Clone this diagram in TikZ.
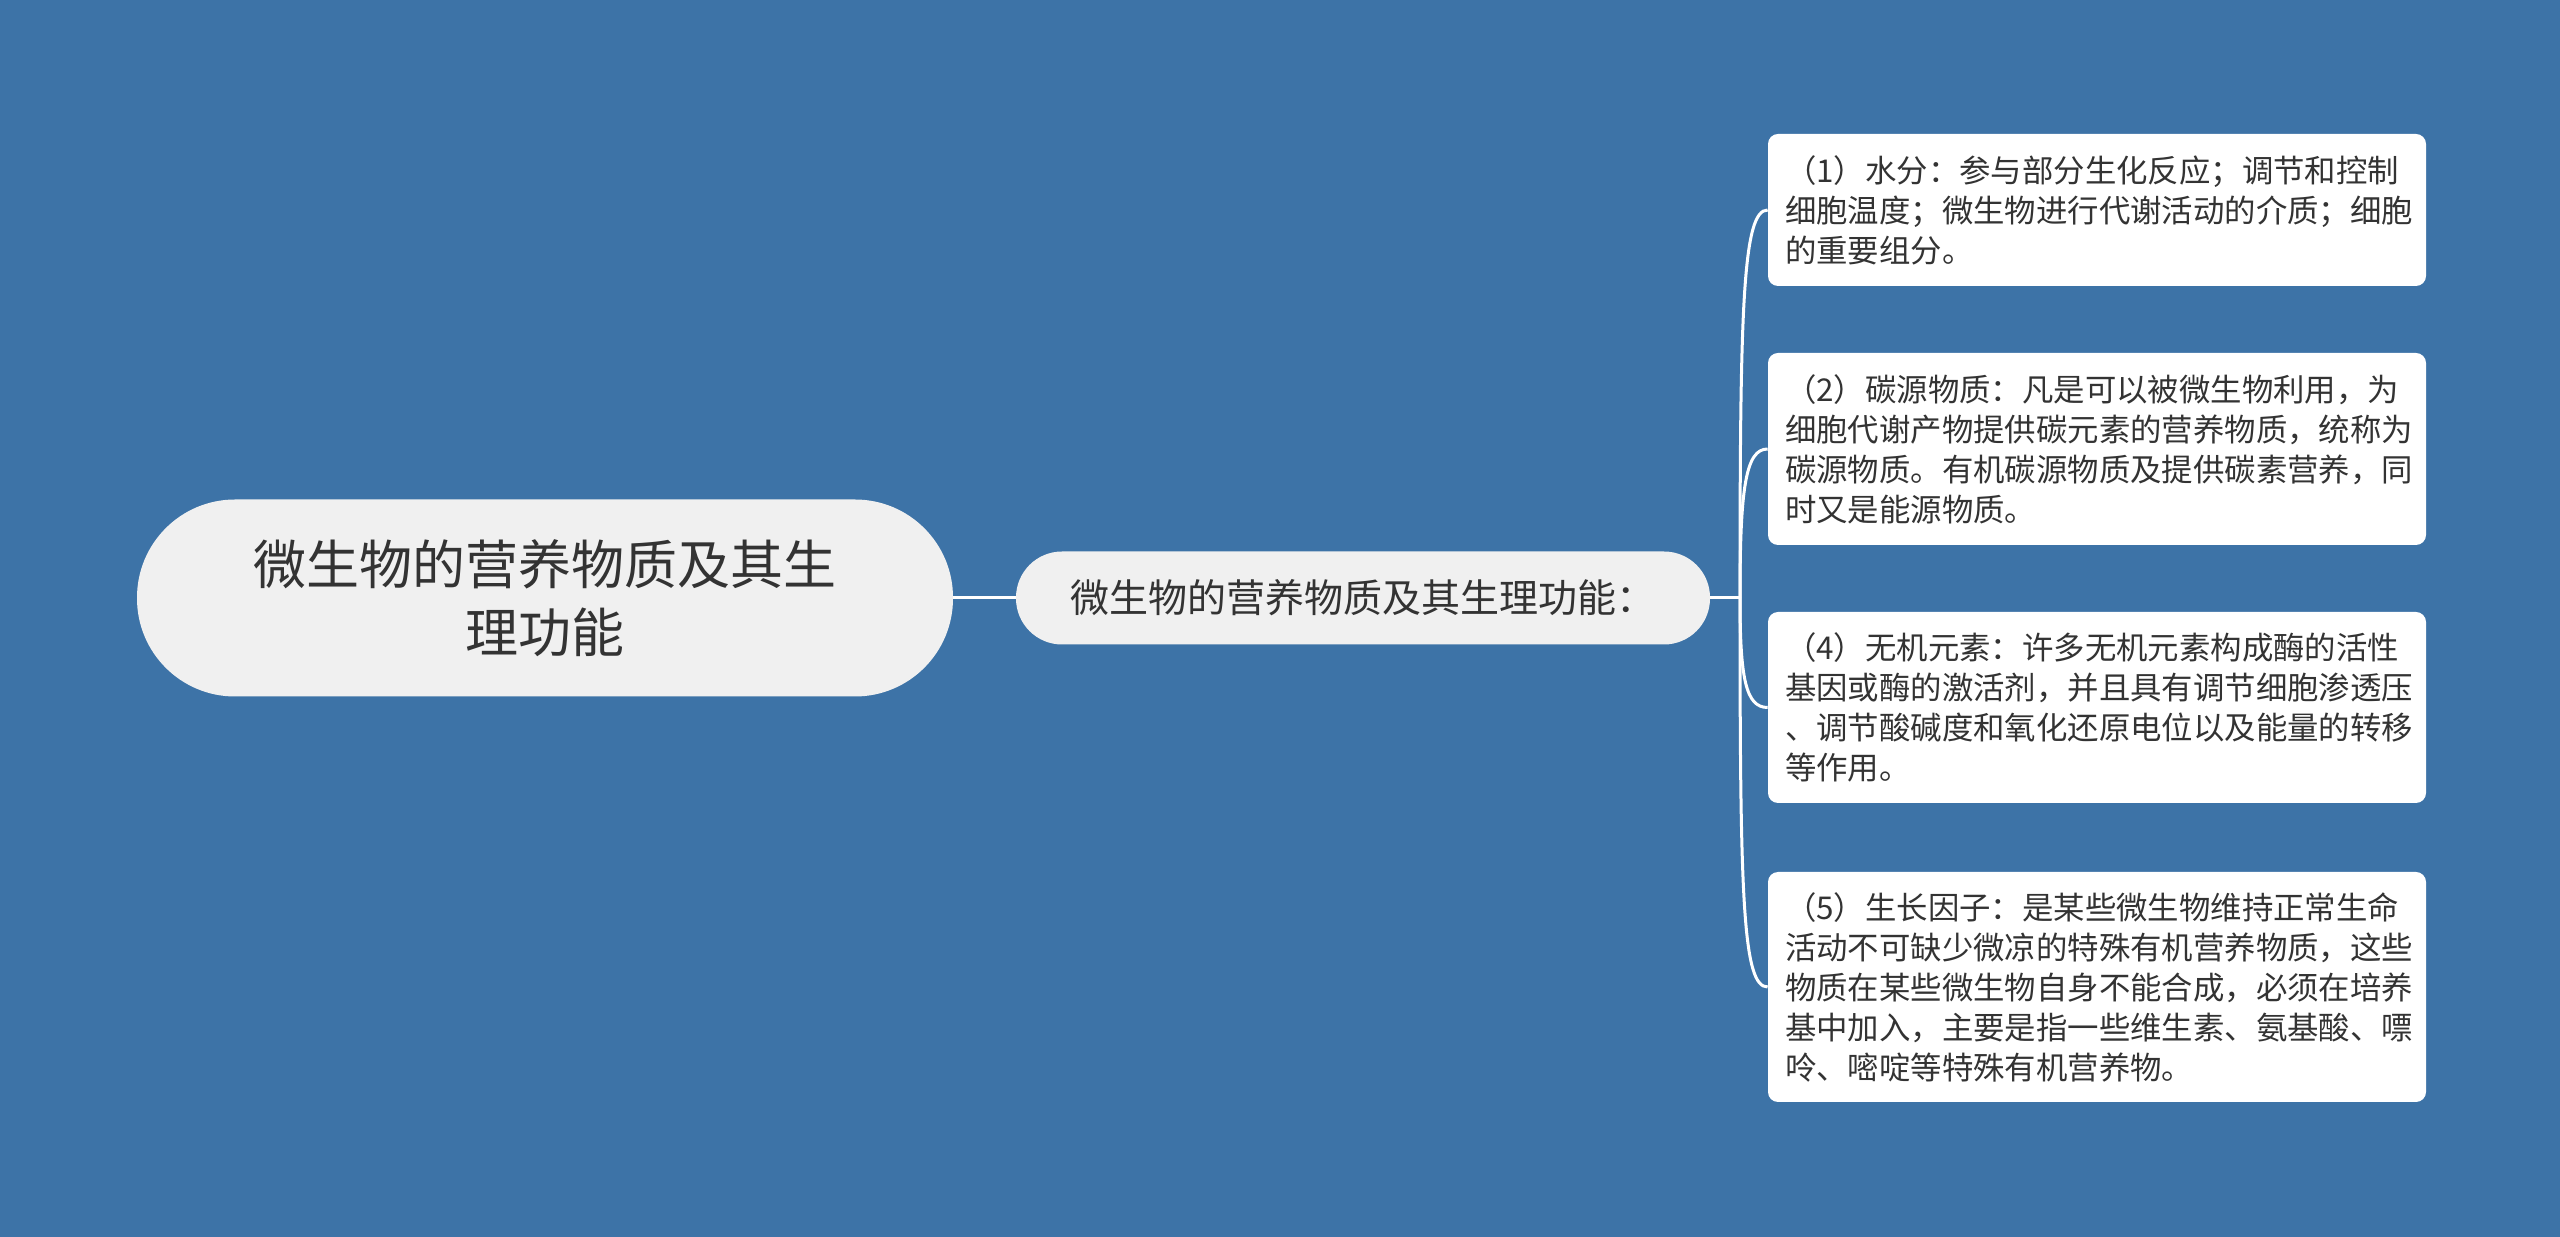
\documentclass[tikz,border=0pt]{standalone}
\usepackage{fontspec}
\setmainfont{Noto Sans CJK SC}
\definecolor{bgblue}{HTML}{3D73A7}
\definecolor{nodegray}{HTML}{F0F0F0}
\definecolor{txtgray}{HTML}{333333}
\begin{document}
\begin{tikzpicture}[x=0.5pt,y=0.5pt,
  root/.style={fill=nodegray,text=txtgray,rounded corners=49pt,minimum width=408pt,minimum height=98.5pt,align=center,font=\fontsize{26.5}{34}\selectfont},
  topic/.style={fill=nodegray,text=txtgray,rounded corners=23pt,minimum width=347pt,minimum height=46.5pt,font=\fontsize{19.5}{24}\selectfont},
  leaf/.style={fill=white,text=txtgray,rounded corners=5pt,text width=312pt,inner xsep=8.5pt,inner ysep=0pt,align=left,font=\fontsize{15.7}{20}\selectfont},
  link/.style={draw=white,line width=1.5pt}]
\fill[bgblue] (0,0) rectangle (2560,1237);
\coordinate (fork) at (1740,639);
\node[root] (root) at (545,639) {微生物的营养物质及其生\\理功能};
\node[topic] (topic) at (1363,639) {微生物的营养物质及其生理功能：}
   edge [link] (root)
   edge [link] (fork)
   ;
\node[leaf,minimum height=76pt] (water) at (2097,1027)
   {（1）水分：参与部分生化反应；调节和控制\\细胞温度；微生物进行代谢活动的介质；细胞\\的重要组分。}
   edge [link,out=180,in=90,out distance=12.5pt,in distance=145pt] (fork)
   ;
\node[leaf,minimum height=96pt] (carbon) at (2097,788)
   {（2）碳源物质：凡是可以被微生物利用，为\\细胞代谢产物提供碳元素的营养物质，统称为\\碳源物质。有机碳源物质及提供碳素营养，同\\时又是能源物质。}
   edge [link,out=180,in=90,out distance=11pt,in distance=55pt] (fork)
   ;
\node[leaf,minimum height=95.5pt] (inorg) at (2097,529.5)
   {（4）无机元素：许多无机元素构成酶的活性\\基因或酶的激活剂，并且具有调节细胞渗透压\\、调节酸碱度和氧化还原电位以及能量的转移\\等作用。}
   edge [link,out=180,in=270,out distance=11pt,in distance=40pt] (fork)
   ;
\node[leaf,minimum height=115pt] (growth) at (2097,250)
   {（5）生长因子：是某些微生物维持正常生命\\活动不可缺少微凉的特殊有机营养物质，这些\\物质在某些微生物自身不能合成，必须在培养\\基中加入，主要是指一些维生素、氨基酸、嘌\\呤、嘧啶等特殊有机营养物。}
   edge [link,out=180,in=270,out distance=12.5pt,in distance=150pt] (fork)
   ;
\end{tikzpicture}
\end{document}
